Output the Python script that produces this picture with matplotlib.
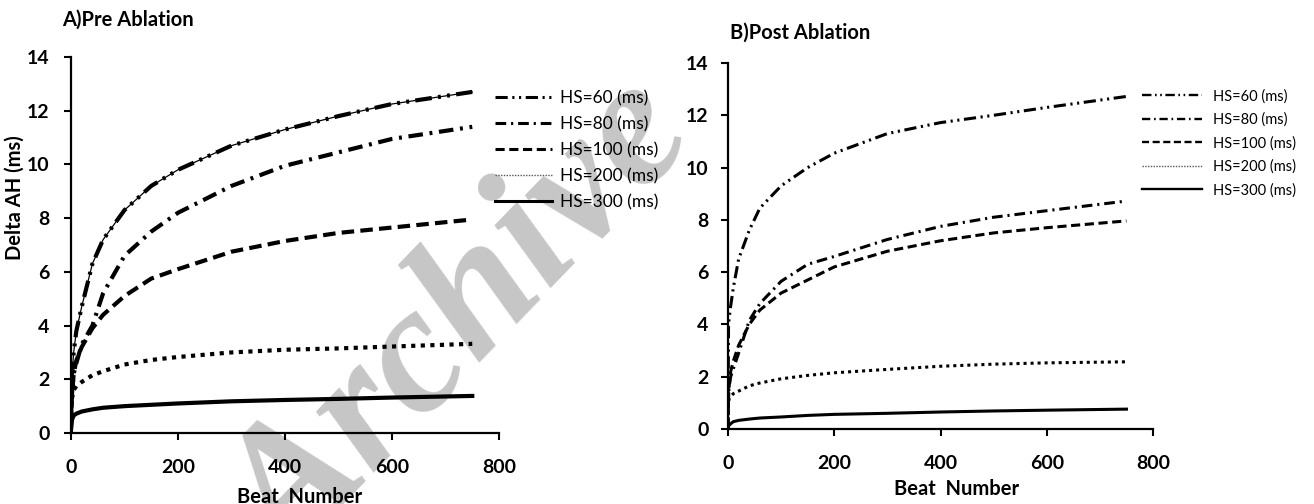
import matplotlib
matplotlib.use("Agg")
import matplotlib.pyplot as plt
from matplotlib.lines import Line2D

W, H = 1314, 504
DPI = 100

# ---------------- data ----------------
beats = [0, 1, 2, 5, 10, 20, 40, 60, 100, 150, 200, 300, 400, 500, 600, 750]

pre_hs60 = [0.5, 1.5, 2.2, 3.0, 3.8, 4.7, 6.3, 7.2, 8.3, 9.2, 9.8, 10.7, 11.3, 11.8, 12.25, 12.7]
pre_hs80 = [0.3, 1.0, 1.5, 2.2, 2.6, 3.3, 4.0, 5.2, 6.6, 7.5, 8.2, 9.2, 9.95, 10.45, 10.95, 11.4]
pre_hs100 = [0.3, 1.0, 1.5, 2.2, 2.7, 3.2, 3.9, 4.4, 5.1, 5.75, 6.1, 6.75, 7.15, 7.45, 7.65, 7.95]
pre_hs200 = [0.2, 1.0, 1.3, 1.6, 1.75, 1.9, 2.15, 2.3, 2.55, 2.72, 2.83, 3.0, 3.1, 3.15, 3.22, 3.32]
pre_hs300 = [0.1, 0.35, 0.5, 0.65, 0.72, 0.8, 0.88, 0.94, 1.0, 1.05, 1.1, 1.18, 1.23, 1.27, 1.32, 1.38]

post_hs60 = [0.0, 3.9, 4.2, 4.7, 5.4, 6.5, 7.6, 8.45, 9.3, 10.0, 10.55, 11.3, 11.72, 12.0, 12.3, 12.72]
post_hs80 = [0.0, 1.2, 1.6, 2.0, 2.3, 2.9, 4.15, 4.8, 5.65, 6.3, 6.6, 7.25, 7.75, 8.1, 8.35, 8.72]
post_hs100 = [0.0, 1.2, 1.6, 2.2, 2.6, 3.2, 4.0, 4.55, 5.2, 5.7, 6.2, 6.8, 7.2, 7.5, 7.7, 7.96]
post_hs200 = [0.0, 1.0, 1.15, 1.25, 1.35, 1.45, 1.65, 1.76, 1.92, 2.05, 2.15, 2.28, 2.4, 2.48, 2.53, 2.57]
post_hs300 = [0.0, 0.1, 0.15, 0.2, 0.28, 0.33, 0.38, 0.42, 0.46, 0.52, 0.56, 0.6, 0.65, 0.69, 0.72, 0.76]

labels = ["HS=60 (ms)", "HS=80 (ms)", "HS=100 (ms)", "HS=200 (ms)", "HS=300 (ms)"]
x_ticks = [0, 200, 400, 600, 800]
y_ticks = [0, 2, 4, 6, 8, 10, 12, 14]

# ---------------- style ----------------
FONT = "Lato"
styles = [
    (0, (4, 1.5, 0.7, 1.5, 0.7, 1.5)),
    (0, (3.5, 1.6, 0.7, 1.6)),
    (0, (3, 1.5)),
    (0, (1, 1.3)),
    "-",
]

fig = plt.figure(figsize=(W / DPI, H / DPI), dpi=DPI)

# ---------------- watermark (behind everything) ----------------
fig.text(290 / W, 1 - 570 / H, "Archive", family="Liberation Serif",
         weight="bold", style="italic", fontsize=132, color="#c6c6c6",
         rotation=46, rotation_mode="anchor", ha="left", va="baseline",
         zorder=-5)


def px_axes(left, right, top, bottom):
    return fig.add_axes([left / W, 1 - bottom / H, (right - left) / W, (bottom - top) / H])


def style_axes(ax, ypad):
    ax.set_xlim(0, 800)
    ax.set_ylim(0, 14)
    ax.set_xticks(x_ticks)
    ax.set_yticks(y_ticks)
    for s in ["top", "right"]:
        ax.spines[s].set_visible(False)
    for s in ["left", "bottom"]:
        ax.spines[s].set_linewidth(1.6)
    ax.tick_params(axis="both", direction="out", length=5, width=1.5, color="black")
    ax.tick_params(axis="x", pad=14)
    ax.tick_params(axis="y", pad=ypad)
    for lab in ax.get_xticklabels() + ax.get_yticklabels():
        lab.set_fontfamily(FONT)
        lab.set_fontweight("bold")
        lab.set_fontsize(14)
    ax.patch.set_alpha(0)


# ---------------- Panel A ----------------
axA = px_axes(71, 499, 57, 433)
pre = [pre_hs60, pre_hs80, pre_hs100, pre_hs200, pre_hs300]
axA.plot(beats, pre_hs60, color="black", lw=0.9, ls="-")
for ys, st in zip(pre, styles):
    axA.plot(beats, ys, color="black", lw=3.0, ls=st)
style_axes(axA, 10.5)

# ---------------- Panel B ----------------
axB = px_axes(728, 1153, 63, 429)
post = [post_hs60, post_hs80, post_hs100, post_hs200, post_hs300]
for ys, st in zip(post, styles):
    axB.plot(beats, ys, color="black", lw=2.2, ls=st)
style_axes(axB, 9)

# ---------------- legends ----------------
def make_handles(lw):
    hs = []
    for i, st in enumerate(styles):
        if i == 3:
            hs.append(Line2D([], [], color="#555555", lw=1.0, ls=(0, (1, 1))))
        else:
            hs.append(Line2D([], [], color="black", lw=lw, ls=st))
    return hs

legA = fig.legend(make_handles(2.2), labels, loc="upper left",
                  bbox_to_anchor=(495 / W, 1 - 90 / H), frameon=False,
                  prop={"family": FONT, "size": 12.5},
                  handlelength=3.3, handletextpad=0.46, labelspacing=0.57,
                  borderaxespad=0, borderpad=0)
legB = fig.legend(make_handles(1.7), labels, loc="upper left",
                  bbox_to_anchor=(1142 / W, 1 - 89 / H), frameon=False,
                  prop={"family": FONT, "size": 10.5},
                  handlelength=4.1, handletextpad=0.75, labelspacing=0.63,
                  borderaxespad=0, borderpad=0)

# ---------------- titles & labels ----------------
fig.text(62 / W, 1 - 20 / H, "A)Pre Ablation", family=FONT, weight="bold",
         fontsize=14.5, ha="left", va="center")
fig.text(730 / W, 1 - 33 / H, "B)Post Ablation", family=FONT, weight="bold",
         fontsize=14.5, ha="left", va="center")
fig.text(15 / W, 1 - 198 / H, "Delta AH (ms)", family=FONT, weight="bold",
         fontsize=14.5, rotation=90, ha="center", va="center")
fig.text(300 / W, 1 - 487 / H, "Beat  Number", family=FONT, weight="bold",
         fontsize=14.5, ha="center", va="top")
fig.text(957 / W, 1 - 479 / H, "Beat  Number", family=FONT, weight="bold",
         fontsize=14.5, ha="center", va="top")

fig.savefig("out.png", dpi=DPI)
